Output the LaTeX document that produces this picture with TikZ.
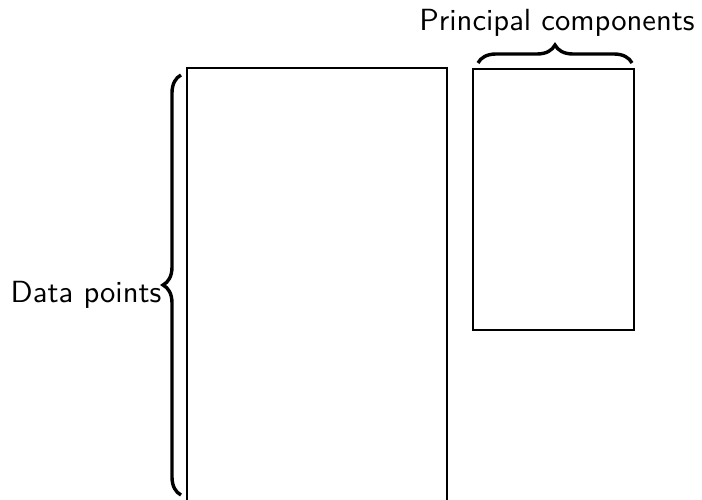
\documentclass[tikz,border=0pt]{standalone}
\usetikzlibrary{decorations.pathreplacing}
\begin{document}
\begin{tikzpicture}[x=1pt,y=-1pt,
  box/.style={line width=1.5pt},
  bracestyle/.style={decorate,decoration={brace,amplitude=18pt},line width=3.4pt},
  lbl/.style={font=\fontsize{10}{12}\selectfont\sffamily,inner sep=0pt,scale=3.06}]
\useasboundingbox (0,0) rectangle (702,500);
% data matrix (bottom edge cut off)
\draw[box] (187,505) -- (187,68) -- (447,68) -- (447,505);
% principal components matrix
\draw[box] (473,69) rectangle (634,330);
\coordinate (lb1) at (181,495);
\coordinate (lb2) at (181,75);
\draw[bracestyle] (lb1) -- (lb2);
\node[lbl,anchor=base east] (dp) at (162,302) {Data points};
\coordinate (tb1) at (478,63);
\coordinate (tb2) at (632,63);
\draw[bracestyle] (tb1) -- (tb2);
\node[lbl,anchor=base] (pc) at (557,31) {Principal components};
\end{tikzpicture}
\end{document}
